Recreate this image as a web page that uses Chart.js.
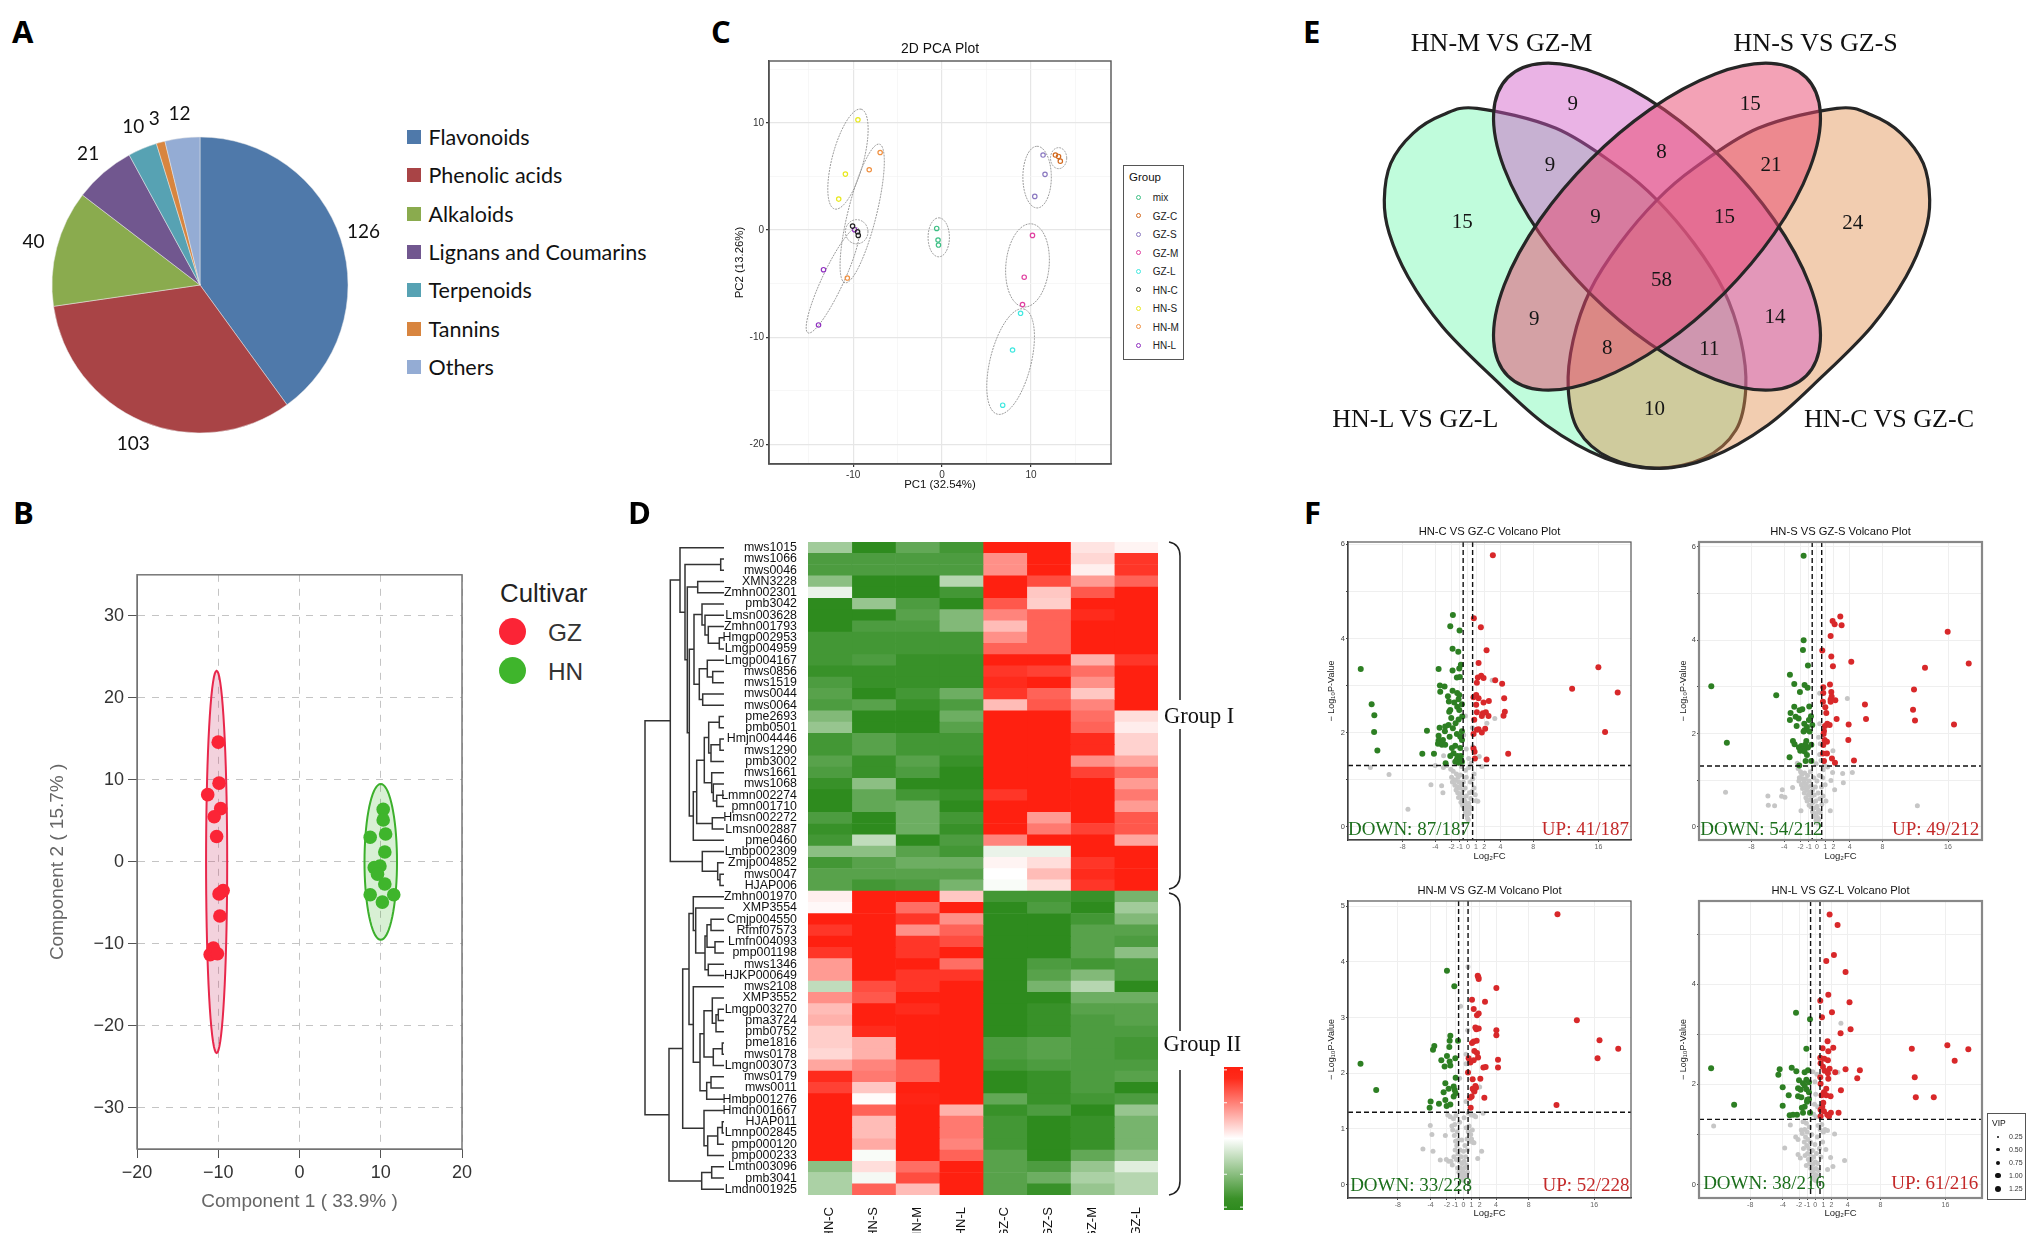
<!DOCTYPE html>
<html>
<head>
<meta charset="utf-8">
<title>Metabolite figure</title>
<script src="https://cdn.jsdelivr.net/npm/chart.js@4"></script>
<style>
  html, body { margin: 0; background: #fff; }
  #page { position: relative; width: 2033px; height: 1233px; overflow: hidden; background: #fff; }
  #page canvas { position: absolute; }
  .t { position: absolute; white-space: nowrap; line-height: 1; }
</style>
</head>
<body>
<div id="page"></div>
<script>
// A - metabolite classes
const classNames = ["Flavonoids", "Phenolic acids", "Alkaloids", "Lignans and Coumarins", "Terpenoids", "Tannins", "Others"];
const classCounts = [126, 103, 40, 21, 10, 3, 12];
const classColors = ["#4f79aa", "#a94446", "#8aab4e", "#71578f", "#57a2b3", "#d8853f", "#94acd4"];

// B - PLS-DA scores
const gzScores = [[-10, 14.6], [-9.9, 9.6], [-11.3, 8.2], [-9.7, 6.5], [-10.5, 5.5], [-10.2, 3.1], [-9.4, -3.5], [-9.9, -3.9], [-9.8, -6.6], [-10.6, -10.5], [-11, -11.3], [-10.1, -11.2]];
const hnScores = [[10.3, 6.4], [10.3, 5.1], [10.6, 3.4], [8.7, 3], [10.5, 1.2], [9.9, -0.5], [9.2, -0.7], [9.6, -1.5], [10.5, -2.7], [8.7, -4], [11.6, -4], [10.2, -4.9]];
const gzHull = [-10.2, 0, 0, 23.3, 1.3, 0];
const hnHull = [10, 0, 0, 9.5, 2, 0];

// C - PCA scores
const pcaGroups = ["mix", "GZ-C", "GZ-S", "GZ-M", "GZ-L", "HN-C", "HN-S", "HN-M", "HN-L"];
const pcaColors = ["#3ebf85", "#d2691e", "#8a78c0", "#e040a0", "#40e8e0", "#222222", "#e8e820", "#f09040", "#9030c0"];
const pcaPoints = [
  [[-0.6, 0.15], [-0.45, -0.93], [-0.4, -1.4]],
  [[12.75, 7], [13.1, 6.87], [13.3, 6.43]],
  [[11.36, 7], [11.58, 5.2], [10.43, 3.14]],
  [[10.17, -0.5], [9.24, -4.4], [9.05, -6.96]],
  [[8.83, -7.77], [7.93, -11.2], [6.82, -16.35]],
  [[-10.06, 0.37], [-9.5, -0.16], [-9.42, -0.5]],
  [[-9.46, 10.29], [-10.87, 5.22], [-11.62, 2.89]],
  [[-6.96, 7.24], [-8.19, 5.63], [-10.65, -4.48]],
  [[-13.33, -3.7], [-13.89, -8.86], [-9.83, 0.03]],
];
const pcaHulls = [
  [-0.37, -0.68, 0, 1.82, 1.2, 0],
  [13.11, 6.71, 0.91, 0, 0, 0.98],
  [10.69, 4.94, 0, 2.88, 1.6, 0],
  [9.61, -3.3, 0.45, 3.88, 2.42, -0.2],
  [7.71, -12.28, 1.49, 4.91, 2.23, -0.47],
  [-9.6, -0.16, 1.27, 0, 0, 1.13],
  [-10.58, 6.62, 1.49, 4.66, 1.71, -0.37],
  [-8.98, 1.55, 1.94, 6.47, 1.56, -0.31],
  [-12.29, -4.69, 2.79, 4.91, 1.08, -0.44],
];

// D - heatmap
const heatCols = ["HN-C", "HN-S", "HN-M", "HN-L", "GZ-C", "GZ-S", "GZ-M", "GZ-L"];
const heatNames = ["mws1015", "mws1066", "mws0046", "XMN3228", "Zmhn002301", "pmb3042", "Lmsn003628", "Zmhn001793", "Hmgp002953", "Lmgp004959", "Lmgp004167", "mws0856", "mws1519", "mws0044", "mws0064", "pme2693", "pmb0501", "Hmjn004446", "mws1290", "pmb3002", "mws1661", "mws1068", "Lmmn002274", "pmn001710", "Hmsn002272", "Lmsn002887", "pme0460", "Lmbp002309", "Zmjp004852", "mws0047", "HJAP006",
  "Zmhn001970", "XMP3554", "Cmjp004550", "Rfmf07573", "Lmfn004093", "pmp001198", "mws1346", "HJKP000649", "mws2108", "XMP3552", "Lmgp003270", "pma3724", "pmb0752", "pme1816", "mws0178", "Lmgn003073", "mws0179", "mws0011", "Hmbp001276", "Hmdn001667", "HJAP011", "Lmnp002845", "pmp000120", "pmp000233", "Lmtn003096", "pmb3041", "Lmdn001925"];
const heatValues = [
  [-.45, -1, -.75, -.9, 1, 1, .12, .05],
  [-.85, -.85, -.85, -.85, .5, 1, .18, .9],
  [-.85, -.85, -.85, -.85, .5, 1, .07, .9],
  [-.55, -1, -1, -.35, 1, .8, .45, .7],
  [-.1, -1, -1, -.9, 1, .25, .75, 1],
  [-1, -.5, -.85, -1, .75, .22, 1, 1],
  [-1, -1, -.8, -.6, .55, .7, .95, 1],
  [-1, -.85, -.85, -.6, .3, .7, 1, 1],
  [-.9, -.9, -.9, -.9, .5, .7, 1, 1],
  [-.9, -.9, -.9, -.9, .7, .7, 1, 1],
  [-.9, -.85, -.95, -.95, 1, 1, .35, .9],
  [-.95, -.95, -.95, -.95, .9, .85, .65, 1],
  [-.85, -.95, -.95, -.95, .95, 1, .5, 1],
  [-.8, -1, -.9, -.7, .9, .7, .25, 1],
  [-.85, -.8, -.95, -.85, .3, .75, .55, 1],
  [-.6, -1, -1, -.7, 1, 1, .65, .15],
  [-.5, -1, -1, -.8, 1, 1, .7, .08],
  [-.9, -.8, -.9, -.9, 1, 1, .95, .2],
  [-.9, -.8, -.9, -.9, 1, 1, .95, .2],
  [-.8, -.95, -.8, -.95, 1, 1, .5, .4],
  [-.85, -.95, -.85, -1, 1, 1, .85, .65],
  [-.95, -.55, -1, -1, 1, 1, 1, .45],
  [-1, -.75, -.9, -.95, .9, 1, 1, .6],
  [-1, -.75, -.7, -1, 1, 1, 1, .45],
  [-.85, -1, -.7, -.9, 1, .45, 1, .75],
  [-.95, -1, -.7, -.95, 1, .6, .85, .75],
  [-.9, -.3, -1, -.85, .55, 1, 1, .4],
  [-.55, -.55, -.8, -.9, -.1, -.1, 1, 1],
  [-.9, -.8, -.7, -.7, .05, .15, .9, 1],
  [-.8, -.8, -.8, -.8, 0, .3, .95, 1],
  [-.8, -.9, -.85, -.65, -.03, .15, .9, 1],
  [.07, 1, 1, .25, -.9, -.9, -.95, -.65],
  [.03, 1, .65, 1, -1, -.85, -1, -.45],
  [1, 1, .9, .5, -1, -1, -.9, -.6],
  [.9, 1, .5, .7, -1, -1, -.8, -.8],
  [1, 1, .9, .8, -1, -1, -.8, -.85],
  [.9, 1, .9, 1, -1, -1, -.8, -.55],
  [.45, 1, 1, .65, -1, -.85, -.9, -.85],
  [.45, 1, .9, .9, -1, -.8, -.6, -.85],
  [-.3, .8, .9, 1, -1, -.65, -.35, -1],
  [.5, .75, 1, 1, -1, -1, -.7, -.7],
  [.3, 1, .95, 1, -1, -.95, -.8, -.8],
  [.35, 1, 1, 1, -1, -.95, -.85, -.8],
  [.22, .95, 1, 1, -1, -.95, -.85, -.85],
  [.22, .35, 1, 1, -.85, -.8, -.85, -.9],
  [.18, .35, 1, 1, -.85, -.8, -.85, -.9],
  [.4, .55, .7, 1, -.9, -.85, -.85, -.85],
  [.95, .6, .7, 1, -1, -.95, -.85, -.8],
  [.85, .25, 1, 1, -1, -.95, -.85, -1],
  [1, .02, .98, 1, -.75, -.95, -.9, -.85],
  [1, .7, 1, .35, -.95, -.85, -1, -.5],
  [1, .3, 1, .6, -.9, -1, -.95, -.65],
  [1, .3, 1, .6, -.9, -1, -.95, -.65],
  [1, .38, 1, .55, -.9, -1, -.95, -.65],
  [1, -.03, 1, .7, -.8, -1, -.75, -.55],
  [-.55, .15, .65, 1, -.8, -.85, -.5, -.15],
  [-.4, -.05, .8, 1, -.8, -.7, -.4, -.35],
  [-.4, .7, .3, 1, -.8, -.95, -.5, -.35],
];
// dendrogram: [distance, left, right], a plain number is a row of heatNames
const treeTop = [53.7,
  [44, 0, [39, [3.3, 1, 2], [36.7, [26.3, 3, 4], [34.7,
    [30, [22, 5, [19, 6, [15.7, 7, [4.7, 8, 9]]]], [24.7, [16.7, 10, [11.3, 11, 12]], [21.3, 13, 14]]],
    [30.7, [27.3, [19.7, [15.3, [4.7, 15, 16], [13, [4, 17, 18], 19]], [12.3, 20, [10.7, 21, [7.3, 22, 23]]]], [11.7, 24, 25]], 26]]]]],
  [21.7, 27, [6.3, 28, [4, 29, 30]]]];
const treeBottom = [55,
  [41.3, [35,
    [30.7, 31, [28.3, 32, [19, [17, [13, 33, 34], [9, 35, 36]], [15.7, 37, 38]]]],
    [30.7, 39, [24, [20, [11.7, 40, [8, [5.7, 41, 42], 43]], [10.7, [1.7, 44, 45], 46]], [17.3, [13, 47, 48], 49]]]],
    [20, 50, [16.3, [6.3, [1.7, 51, 52], 53], 54]]],
  [22.3, [12.3, 55, 56], 57]];
const treeRoot = [79, treeTop, treeBottom];

// E - Venn
const vennSets = ["HN-L VS GZ-L", "HN-M VS GZ-M", "HN-S VS GZ-S", "HN-C VS GZ-C"];
const vennCounts = [15, 9, 15, 24, 9, 8, 21, 9, 15, 58, 9, 14, 8, 11, 10];
const vennCountX = [-194.8, -84.3, 93.2, 195.8, -107, 4.4, 113.9, -61.6, 67.6, 4.4, -122.8, 117.9, -49.8, 52.3, -2.5];
const vennCountY = [222.3, 104, 104, 223.3, 165, 152.7, 165, 217.3, 217.3, 280, 319, 317.3, 348.3, 349, 409.3];
const vennOuterX = [-180, -101, -37, 0, 37, 66.6, 83.8, 88.8, 78.9, 46.8, -2.5, -51.8, -111, -165, -214.5, -249, -267.8, -272.7, -266.3, -244, -214.5];
const vennOuterY = [108.3, 128.3, 168.3, 200, 243.3, 290, 340, 388.3, 430, 458.3, 468.3, 458.3, 425, 376.7, 326.7, 276.7, 233.3, 200, 163.3, 133.3, 115];

// F - volcano plots, [log2FC, -log10P]
const volcanoTicks = [-8, -4, -2, -1, 0, 1, 2, 4, 8, 16];
const cUp = [[3.06, 5.77], [.73, 4.43], [1.59, 4.24], [2.29, 3.75], [1.31, 3.48], [16, 3.39], [3.35, 3.11], [1.63, 3.21], [1.22, 3.17], [1.92, 3.16], [1.1, 3.06], [4.2, 3.04], [12.78, 2.93], [18.37, 2.85], [1.02, 2.8], [.69, 2.75], [1.31, 2.73], [4.45, 2.73], [2.57, 2.67], [1.92, 2.64], [1.02, 2.59], [4.53, 2.44], [4.37, 2.36], [1.1, 2.43], [2.2, 2.43], [1.71, 2.35], [2.53, 2.35], [.78, 2.27], [16.82, 2.01], [2.12, 2.08], [1.1, 2.06], [1.71, 2], [.69, 1.97], [.69, 1.66], [.82, 1.59], [4.94, 1.55], [.86, 1.45], [2.29, 1.43], [1.31, 2.07], [1.84, 2.41]];
const cDown = [[-13.14, 3.35], [-11.8, 2.6], [-11.47, 2.37], [-11.5, 2.01], [-11.1, 1.62], [-1.84, 4.5], [-2.16, 4.26], [-1.02, 4.17], [-1.88, 3.78], [-1.18, 3.72], [-3.59, 3.35], [-1.88, 3.32], [-1.06, 3.36], [-.86, 3.44], [-1.35, 3.17], [-.98, 3.18], [-3.43, 3], [-2.86, 2.98], [-3.39, 2.87], [-1.88, 2.89], [-1.31, 2.84], [-2.45, 2.77], [-1.06, 2.8], [-1.14, 2.71], [-2.33, 2.66], [-1.67, 2.64], [-.73, 2.6], [-1.31, 2.55], [-1.06, 2.48], [-2.16, 2.48], [-2.29, 2.44], [-.69, 2.34], [-2.04, 2.31], [-1.14, 2.28], [-1.51, 2.2], [-2.37, 2.16], [-2.78, 2.13], [-3.47, 2.1], [-1.84, 2.09], [-5.02, 2.04], [-2.82, 2.03], [-.73, 2.03], [-3.59, 1.93], [-1.35, 1.97], [-2.24, 1.91], [-.94, 1.91], [-3.59, 1.83], [-3.06, 1.84], [-.73, 1.84], [-3.67, 1.76], [-3.18, 1.74], [-2.78, 1.74], [-1.55, 1.72], [-1.96, 1.67], [-.94, 1.67], [-5.59, 1.55], [-4.16, 1.55], [-1.76, 1.56], [-2.16, 1.5], [-1.27, 1.5], [-.86, 1.5], [-1.35, 1.43], [-.94, 1.43], [-2.73, 1.35], [-1.14, 1.36], [-.73, 1.38], [-1.55, 1.38]];
const cOther = [[-7.35, .37], [-9.67, 1.11], [-11.96, 1.26], [-4.53, .89], [-3.22, .87], [-3.06, .72], [-4, 1.3], [-2.98, 1.51], [2.98, 3.11], [3.3, 2.3], [2.33, 2.2], [1.39, 1.49], [1.71, 1.28], [1.22, .54], [-2.1, 1.22], [-1.8, 1.18], [-2, 1.05], [-1.7, 1], [-1.9, .95], [-1.4, 1.12], [-1.5, .98], [-1.6, .88], [-1.2, 1.05], [-1.3, .85], [-1.1, .95], [-1.45, .78], [-1.25, .72], [-1, .82], [-.9, 1.1], [-.95, .7], [-1.15, .62], [-.8, .9], [-.75, .6], [-.85, .52], [-.6, .78], [-.55, .95], [-.65, .45], [-.5, .62], [-.45, .38], [-.4, .55], [-.35, .82], [-.3, .3], [-.25, .48], [-.2, .65], [-.15, .25], [-.1, .4], [-.05, .18], [0, .32], [.05, .15], [.1, .5], [.15, .28], [.2, .72], [.25, .42], [.3, .95], [.35, .6], [.45, .38], [.5, .75], [.6, 1.02], [.75, .82], [.9, .68], [1, .55], [.75, 1.12], [.4, 1.35], [.1, 1.25], [-.3, 1.2], [-.5, 1.95], [-.3, 2.35], [.55, 2.1], [-.2, 1.65], [.1, 1.45], [.6, 1.7], [-.8, 1.28], [-.2, 1.05], [-2.6, 1.3], [-3, 1.26]];

const sUp = [[2.85, 4.51], [1.91, 4.41], [2.16, 4.34], [3.01, 4.32], [1.67, 4.09], [15.96, 4.18], [.65, 3.78], [1.75, 3.65], [4.19, 3.54], [1.95, 3.44], [18.53, 3.5], [13.19, 3.41], [11.85, 2.94], [1.59, 3.05], [.77, 2.99], [1.75, 2.89], [.77, 2.87], [1.79, 2.79], [1.67, 2.73], [2.24, 2.71], [1.67, 2.68], [.73, 2.68], [5.86, 2.62], [1.02, 2.56], [11.73, 2.51], [1.14, 2.44], [2.4, 2.31], [5.99, 2.31], [11.97, 2.28], [1.26, 2.21], [3.87, 2.19], [16.73, 2.19], [1.55, 2.18], [.98, 2.16], [.86, 2.05], [.81, 1.99], [.94, 1.86], [3.83, 1.86], [1.22, 1.82], [.77, 1.75], [1.22, 1.57], [.73, 1.57], [1.83, 1.46], [4.52, 1.42], [.86, 1.41], [2.2, 1.37]];
const sDown = [[-12.9, 3.01], [-11, 1.8], [-1.63, 5.81], [-1.63, 4], [-1.71, 3.79], [-1.1, 3.46], [-3.3, 3.26], [-2.77, 3.06], [-1.51, 3.04], [-1.14, 2.98], [-2.08, 2.89], [-4.97, 2.82], [-2.77, 2.57], [-.94, 2.58], [-1.79, 2.52], [-2.12, 2.5], [-3.22, 2.44], [-.73, 2.37], [-2.6, 2.36], [-2.24, 2.32], [-3.3, 2.29], [-.98, 2.29], [-1.55, 2.21], [-.57, 2.18], [-2.48, 2.16], [-1.22, 2.14], [-1.51, 2.07], [-1.63, 2.04], [-.9, 2.04], [-2.93, 1.84], [-1.3, 1.84], [-2.73, 1.77], [-.69, 1.76], [-1.43, 1.76], [-1.91, 1.73], [-2.2, 1.7], [-1.1, 1.7], [-1.71, 1.66], [-2.04, 1.63], [-1.51, 1.61], [-1.22, 1.54], [-3.34, 1.49], [-1.38, 1.41], [-.69, 1.41], [-2.16, 1.31]];
const sOther = [[-11.16, .74], [12.26, .45], [-5.99, .66], [-5.94, .46], [-5.17, .45], [-4.23, .79], [-4.32, .65], [-3.91, .63], [-2.97, .84], [-1.95, .34], [3.71, 2.75], [1.95, 1.63], [4.32, 1.16], [3.14, 1.14], [3.22, .94], [1.91, 1.16], [1.71, .99], [2.16, .79], [1.63, .34], [.33, 2.86], [.33, 2.21], [-2.3, 1.25], [-2, 1.18], [-2.15, 1.05], [-2.2, .98], [-1.85, 1.12], [-1.7, 1.02], [-1.9, .9], [-1.6, .95], [-1.75, .82], [-1.5, 1.15], [-1.4, 1.02], [-1.45, .85], [-1.55, .72], [-1.3, .92], [-1.25, .78], [-1.35, .62], [-1.15, 1.1], [-1.1, .85], [-1.05, .68], [-1.2, .55], [-.95, .98], [-.9, .75], [-.85, .58], [-.95, .46], [-.8, 1.18], [-.7, .88], [-.65, .65], [-.7, .42], [-.55, .78], [-.5, .52], [-.55, .32], [-.4, 1.05], [-.35, .68], [-.3, .4], [-.35, .22], [-.2, .85], [-.15, .55], [-.12, .28], [-.1, .14], [0, .98], [.02, .44], [.05, .2], [.08, .08], [.15, .72], [.2, .35], [.25, .16], [.3, 1.1], [.35, .6], [.4, .3], [.55, .85], [.6, .48], [.7, 1.05], [.75, .66], [1, .9], [1.1, .55], [.33, 1.55], [.4, 1.78], [.2, 1.92], [-.1, 1.35], [.5, 1.42], [.75, 1.22], [-2.4, 1.36], [1.3, 1.28], [.9, 1.32]];

const mUp = [[11.51, 4.85], [1.76, 3.75], [1.84, 3.72], [1.88, 3.69], [4.04, 3.53], [1.06, 3.32], [2.65, 3.28], [1.27, 3.15], [1.88, 3.07], [1.67, 3.04], [13.88, 2.95], [1.47, 2.82], [1.88, 2.8], [1.59, 2.79], [4.04, 2.77], [4.04, 2.68], [1.63, 2.58], [1.27, 2.57], [1.06, 2.54], [16.65, 2.59], [18.94, 2.44], [1.35, 2.4], [1.67, 2.36], [16.41, 2.27], [4.24, 2.24], [.65, 2.27], [1.8, 2.28], [1.27, 2.23], [.86, 2.19], [2.45, 2.1], [2.73, 2.11], [4.24, 2.1], [.57, 2.01], [1.14, 1.89], [2.08, 1.9], [1.47, 1.77], [1.14, 1.72], [1.35, 1.67], [1.02, 1.58], [.82, 1.56], [2.57, 1.56], [11.39, 1.43], [.9, 1.38], [1.27, 1.7], [1.55, 1.74]];
const mDown = [[-12.57, 2.17], [-10.65, 1.7], [-2, 3.84], [-1.1, 3.56], [-1.59, 2.67], [-1.67, 2.58], [-.65, 2.58], [-1.71, 2.47], [-3.55, 2.49], [-3.71, 2.42], [-2, 2.31], [-2.69, 2.23], [-.98, 2.27], [-1.67, 2.21], [-1.59, 2.14], [-2.29, 2.12], [-.94, 1.92], [-2.2, 1.82], [-1.18, 1.76], [-1.8, 1.72], [-1.06, 1.7], [-2.41, 1.66], [-1.18, 1.58], [-4, 1.49], [-2.98, 1.45], [-2.2, 1.52], [-1.59, 1.44], [-2.04, 1.41], [-4.12, 1.38], [-.94, 1.64]];
const mOther = [[.57, 3.91], [-.33, 3.2], [.53, 2.77], [.33, 2.34], [.33, 2.17], [-.45, 1.91], [2, 1.75], [.33, 1.49], [2.41, 1.28], [-4.04, 1.06], [-3.84, .9], [-2.2, .88], [-4.94, .64], [-3.71, .6], [-2.82, .44], [-2.08, .45], [-1.8, .42], [2.24, .6], [1.76, .47], [-1.9, 1.25], [-1.6, 1.22], [-1.4, 1.05], [-1.2, 1.18], [-1.3, .98], [-1.05, 1.08], [-1.1, .88], [-.95, .78], [-.9, 1.24], [-1.5, .42], [-1.35, .35], [-1.15, .5], [-1, .62], [-.85, .45], [-.8, .7], [-.75, .95], [-.7, .3], [-.65, .55], [-.6, .8], [-.55, .22], [-.5, .42], [-.45, 1.12], [-.4, .62], [-.35, .3], [-.3, .18], [-.25, .5], [-.2, .8], [-.15, .38], [-.1, .12], [-.05, .25], [0, .08], [.02, .6], [.05, .18], [.1, .42], [.15, .3], [.2, .7], [.25, .15], [.3, .5], [.35, 1.02], [.4, .35], [.45, .82], [.5, .22], [.6, .95], [.7, 1.05], [.8, .78], [.9, .9], [1, .82], [1.1, .98], [1.15, .76], [1.3, .75], [.95, 1.25], [1.3, 1.24], [1.5, 1.22], [.6, 1.28], [.1, 1.2], [.5, .62]];

const lUp = [[1.76, 5.39], [2.74, 5.18], [2.29, 4.58], [1.35, 4.46], [3.72, 4.24], [1.6, 3.79], [.61, 3.67], [4.21, 3.64], [2.05, 3.44], [.82, 3.34], [4.34, 3.1], [3.11, 3.02], [1.51, 2.86], [16.24, 2.78], [11.87, 2.71], [18.82, 2.7], [2.21, 2.73], [.9, 2.72], [1.6, 2.66], [17.14, 2.47], [.61, 2.53], [1.1, 2.51], [1.55, 2.48], [.65, 2.42], [.94, 2.35], [3.72, 2.3], [5.48, 2.28], [1.76, 2.31], [1.15, 2.27], [2.45, 2.24], [1.55, 2.22], [.61, 2.14], [12.23, 2.14], [5.16, 2.12], [1.6, 2.11], [.65, 2.01], [1.35, 1.91], [3.15, 1.88], [1.06, 1.84], [.78, 1.78], [1.35, 1.78], [1.88, 1.76], [12.36, 1.74], [14.57, 1.74], [.98, 1.63], [.86, 1.55], [1.06, 1.46], [.65, 1.49], [2.86, 1.43], [1.92, 1.43], [1.47, 1.39], [.65, 1.36], [1.68, 1.36]];
const lDown = [[-12.81, 2.32], [-9.98, 1.59], [-2.37, 3.43], [-.65, 3.3], [-1.1, 2.71], [-2.9, 2.33], [-4.38, 2.3], [-4.54, 2.19], [-2.33, 2.26], [-.9, 2.28], [-1.31, 2.24], [-2, 2.08], [-1.1, 2.09], [-.78, 2.04], [-1.51, 2.02], [-1.31, 1.97], [-4.01, 1.94], [-2.12, 1.92], [-1.8, 1.89], [-1.1, 1.9], [-.78, 1.84], [-3.27, 1.78], [-2.12, 1.76], [-1.72, 1.74], [-.78, 1.7], [-1.02, 1.65], [-4.01, 1.57], [-1.31, 1.55], [-1.65, 1.53], [-1.51, 1.43], [-.65, 1.43], [-2.25, 1.39], [-3.15, 1.38], [-2.73, 1.39], [-.98, 1.69]];
const lOther = [[-12.5, 1.17], [3.15, 3.22], [2.78, 2.24], [-3.76, .73], [-3.07, 1.19], [-2.41, .95], [-2.12, .9], [-1.72, 1.09], [-1.43, 1.26], [3.6, .48], [2.37, 1.01], [1.88, .54], [2.17, .36], [1.51, .3], [-2.12, .6], [-1.84, .53], [-1.1, .38], [-1.5, 1.25], [-1.3, 1.1], [-1.6, 1.02], [-1.1, 1.22], [-1.2, .95], [-1.35, .85], [-1.45, .72], [-1.05, .78], [-1, 1.05], [-.95, .62], [-.9, .9], [-1.25, .58], [-.85, .5], [-.8, .72], [-.75, 1.15], [-.7, .42], [-.65, .6], [-.6, .85], [-.55, .32], [-.5, .5], [-.45, 1], [-.4, .25], [-.35, .68], [-.3, .4], [-.25, .15], [-.2, .55], [-.15, .3], [-.1, .1], [-.05, .8], [0, .2], [.02, .45], [.05, .08], [.1, .32], [.15, .62], [.2, .18], [.25, .95], [.3, .42], [.35, 1.18], [.4, .28], [.5, .72], [.6, 1.1], [.7, .55], [.8, 1.2], [.9, .85], [1, 1.05], [1.2, 1.1], [1.3, .7], [1.5, 1.08], [-.2, 1.4], [.05, 1.8], [-.1, 1.6], [.2, 2.2], [-.05, 2.05], [.3, 1.55], [-.3, 2.25], [.1, 1.35]];

const vipSizes = [0.25, 0.5, 0.75, 1, 1.25];

Chart.defaults.font.family = '"Liberation Sans", Arial, sans-serif';
Chart.defaults.animation = false;

const page = document.getElementById("page");

// rect and plot are [left, top, right, bottom] in page pixels
function addChart(rect, plot, config) {
  let canvas = document.createElement("canvas");
  canvas.width = rect[2] - rect[0];
  canvas.height = rect[3] - rect[1];
  canvas.style.left = rect[0] + "px";
  canvas.style.top = rect[1] + "px";
  page.appendChild(canvas);
  let opts = config.options || (config.options = {});
  opts.responsive = false;
  opts.devicePixelRatio = 1;
  opts.plugins = Object.assign({ legend: { display: false }, tooltip: { enabled: false } }, opts.plugins);
  let titleH = 0;
  if (opts.plugins.title) titleH = opts.plugins.title.font.size * 1.2 + 3;
  opts.layout = {
    autoPadding: false,
    padding: { left: plot[0] - rect[0] - (opts.scales && opts.scales.y && opts.scales.y.display !== false ? plot[0] - rect[0] : 0), top: plot[1] - rect[1] - titleH, right: rect[2] - plot[2], bottom: 0 },
  };
  if (opts.scales) {
    if (opts.scales.y.display !== false) opts.scales.y.afterFit = (s) => { s.width = plot[0] - rect[0]; };
    if (opts.scales.x.display !== false) opts.scales.x.afterFit = (s) => { s.height = rect[3] - plot[3]; };
  }
  return new Chart(canvas, config);
}

function addText(text, x, y, css) {
  let el = document.createElement("div");
  el.className = "t";
  el.textContent = text;
  el.style.cssText = `left:${x}px;top:${y}px;` + css;
  page.appendChild(el);
  return el;
}

function explicitTicks(values) {
  return (s) => { s.ticks = values.map((v) => ({ value: v })); };
}

function framePlugin(color, width) {
  return {
    id: "frame",
    afterDraw(chart) {
      let a = chart.chartArea, c = chart.ctx;
      c.save();
      c.strokeStyle = color;
      c.lineWidth = width;
      c.strokeRect(a.left, a.top, a.right - a.left, a.bottom - a.top);
      c.restore();
    },
  };
}

// hull = [cx, cy, ax, ay, bx, by], centre and the two half axes in data units
function hullPlugin(hulls, style) {
  return {
    id: "hulls",
    beforeDatasetsDraw(chart) {
      let c = chart.ctx, sx = chart.scales.x, sy = chart.scales.y;
      hulls.forEach((h, i) => {
        let st = style[i] || style[0];
        c.save();
        c.beginPath();
        for (let k = 0; k <= 72; k++) {
          let t = (k / 72) * Math.PI * 2;
          let px = sx.getPixelForValue(h[0] + h[2] * Math.cos(t) + h[4] * Math.sin(t));
          let py = sy.getPixelForValue(h[1] + h[3] * Math.cos(t) + h[5] * Math.sin(t));
          if (k === 0) c.moveTo(px, py);
          else c.lineTo(px, py);
        }
        c.closePath();
        if (st.fill) {
          c.fillStyle = st.fill;
          c.fill();
        }
        c.strokeStyle = st.stroke;
        c.lineWidth = st.width;
        if (st.dash) c.setLineDash(st.dash);
        c.stroke();
        c.restore();
      });
    },
  };
}

// A
const pieLabels = {
  id: "pieLabels",
  afterDatasetsDraw(chart) {
    let c = chart.ctx;
    c.save();
    c.font = '19px Lato';
    c.fillStyle = "#111";
    c.textAlign = "center";
    c.textBaseline = "middle";
    chart.getDatasetMeta(0).data.forEach((arc, i) => {
      let a = (arc.startAngle + arc.endAngle) / 2;
      c.fillText(classCounts[i], arc.x + Math.cos(a) * (arc.outerRadius + 24), arc.y + Math.sin(a) * (arc.outerRadius + 24));
    });
    c.restore();
  },
};

addChart([0, 85, 400, 485], [0, 85, 400, 485], {
  type: "pie",
  data: { labels: classNames, datasets: [{ data: classCounts, backgroundColor: classColors, borderWidth: 0.5, borderColor: "#e8e8e8", radius: 148 }] },
  plugins: [pieLabels],
});

classNames.forEach((name, i) => {
  let y = 137 + i * 38.3;
  let sw = addText("", 407, y - 7, `width:14px;height:14px;background:${classColors[i]};`);
  addText(name, 428.5, y - 12, "font:21.5px/24px Lato;color:#111;");
});

// B
const minus = (v) => (v < 0 ? "\u2212" + Math.abs(v) : String(v));
addChart([46, 560, 480, 1213], [137, 574, 462, 1149], {
  type: "scatter",
  data: {
    datasets: [
      { label: "GZ", data: gzScores, backgroundColor: "#fb2436", pointRadius: 6.8, borderWidth: 0 },
      { label: "HN", data: hnScores, backgroundColor: "#3fb52c", pointRadius: 6.8, borderWidth: 0 },
    ],
  },
  options: {
    scales: {
      x: {
        type: "linear", min: -20, max: 20,
        afterBuildTicks: explicitTicks([-20, -10, 0, 10, 20]),
        grid: { color: "#c4c4c4", tickColor: "#555", tickLength: 9 }, border: { dash: [7, 7], color: "#666" },
        ticks: { callback: minus, font: { size: 18 }, color: "#333", padding: 4, maxRotation: 0 },
        title: { display: true, text: "Component 1 ( 33.9% )", font: { size: 19 }, color: "#666", padding: 0 },
      },
      y: {
        type: "linear", min: -35, max: 35,
        afterBuildTicks: explicitTicks([-30, -20, -10, 0, 10, 20, 30]),
        grid: { color: "#c4c4c4", tickColor: "#555", tickLength: 9 }, border: { dash: [7, 7], color: "#666" },
        ticks: { callback: minus, font: { size: 18 }, color: "#333", padding: 4 },
        title: { display: true, text: "Component 2 ( 15.7% )", font: { size: 19 }, color: "#666", padding: 0 },
      },
    },
  },
  plugins: [framePlugin("#777", 1.5), hullPlugin([gzHull, hnHull], [
    { fill: "rgba(200,50,100,0.22)", stroke: "#e8274b", width: 2 },
    { fill: "rgba(60,180,40,0.2)", stroke: "#3cb02c", width: 2 },
  ])],
});
addText("Cultivar", 500, 579, "font:25.8px 'Liberation Sans';color:#222;");
addText("", 499, 617.5, "width:27px;height:27px;border-radius:50%;background:#fb2436;");
addText("", 499, 656.5, "width:27px;height:27px;border-radius:50%;background:#3fb52c;");
addText("GZ", 548, 619, "font:24.4px 'Liberation Sans';color:#333;");
addText("HN", 548, 658, "font:24.4px 'Liberation Sans';color:#333;");

// C
const pcaGrid = (ctx) => (ctx.tick && ctx.tick.value % 10 === 0 ? "#e6e6e6" : "#f3f3f3");
const pcaGridW = (ctx) => (ctx.tick && ctx.tick.value % 10 === 0 ? 1.2 : 0.7);
const pcaTick = (ctx) => (ctx.tick && ctx.tick.value % 10 === 0 ? "#333" : "rgba(0,0,0,0)");
const tensOnly = (v) => (v % 10 === 0 ? v : "");
addChart([733, 30, 1115, 492], [769, 61, 1111, 464], {
  type: "scatter",
  data: {
    datasets: pcaGroups.map((g, i) => ({ label: g, data: pcaPoints[i], borderColor: pcaColors[i], backgroundColor: "rgba(0,0,0,0)", pointRadius: 2.2, borderWidth: 1.2 })),
  },
  options: {
    plugins: { title: { display: true, text: "2D PCA Plot", font: { size: 13.9, weight: "normal" }, color: "#111", fullSize: false, padding: { top: 0, bottom: 3 } } },
    scales: {
      x: {
        type: "linear", min: -19.46, max: 19,
        afterBuildTicks: explicitTicks([-15, -10, -5, 0, 5, 10, 15]),
        grid: { color: pcaGrid, lineWidth: pcaGridW, tickColor: pcaTick, tickLength: 3 },
        border: { color: "#444", width: 1.5 },
        ticks: { callback: tensOnly, font: { size: 10 }, color: "#333", padding: 2, maxRotation: 0 },
        title: { display: true, text: "PC1 (32.54%)", font: { size: 11.4 }, color: "#111", padding: 0 },
      },
      y: {
        type: "linear", min: -21.84, max: 15.78,
        afterBuildTicks: explicitTicks([-20, -15, -10, -5, 0, 5, 10, 15]),
        grid: { color: pcaGrid, lineWidth: pcaGridW, tickColor: pcaTick, tickLength: 3 },
        border: { color: "#444", width: 1.5 },
        ticks: { callback: tensOnly, font: { size: 10 }, color: "#333", padding: 2 },
        title: { display: true, text: "PC2 (13.26%)", font: { size: 11.4 }, color: "#111", padding: 0 },
      },
    },
  },
  plugins: [framePlugin("#555", 1.4), hullPlugin(pcaHulls, [{ stroke: "#9a9a9a", width: 1, dash: [2, 1] }])],
});
addText("", 1123, 165, "width:59px;height:193px;border:1.4px solid #555;box-sizing:content-box;");
addText("Group", 1129, 171, "font:11.5px 'Liberation Sans';color:#111;");
pcaGroups.forEach((g, i) => {
  let y = 197 + i * 18.5;
  addText("", 1135.5, y - 2.5, `width:3.4px;height:3.4px;border-radius:50%;border:1.2px solid ${pcaColors[i]};`);
  addText(g, 1152.7, y - 5, "font:10px 'Liberation Sans';color:#222;");
});

// D
function heatColor(v) {
  let target = v >= 0 ? [255, 32, 16] : [46, 139, 30];
  let k = Math.abs(v);
  return `rgb(${target.map((c) => Math.round(255 + (c - 255) * k)).join(",")})`;
}

const dendrogram = {
  id: "dendrogram",
  afterDraw(chart) {
    let c = chart.ctx, sy = chart.scales.y;
    let leafX = 94; // line ends, canvas pixels
    c.save();
    c.strokeStyle = "#333";
    c.lineWidth = 1.5;
    function walk(node) {
      if (typeof node === "number") return { x: leafX, y: sy.getPixelForValue(node) };
      let a = walk(node[1]), b = walk(node[2]);
      let x = leafX - node[0];
      c.beginPath();
      c.moveTo(a.x, a.y);
      c.lineTo(x, a.y);
      c.lineTo(x, b.y);
      c.lineTo(b.x, b.y);
      c.stroke();
      return { x: x, y: (a.y + b.y) / 2 };
    }
    walk(treeRoot);
    c.restore();
  },
};

function drawBrace(c, x, top, gapTop, gapBottom, bottom) {
  c.beginPath();
  c.moveTo(x - 11, top);
  c.quadraticCurveTo(x, top + 2, x, top + 14);
  c.lineTo(x, gapTop);
  c.moveTo(x, gapBottom);
  c.lineTo(x, bottom - 14);
  c.quadraticCurveTo(x, bottom - 2, x - 11, bottom);
  c.stroke();
}

const heatExtras = {
  id: "heatExtras",
  afterDraw(chart) {
    let c = chart.ctx, sy = chart.scales.y, a = chart.chartArea;
    let row = (i) => sy.getPixelForValue(i);
    let half = (row(1) - row(0)) / 2;
    c.save();
    c.strokeStyle = "#222";
    c.lineWidth = 1.5;
    drawBrace(c, a.right + 22, row(0) - half, 170, 198, row(30) + half - 2);
    drawBrace(c, a.right + 22, row(31) - half + 2, 508, 540, row(57) + half);
    // colour key
    let top = 537, bottom = 680, left = 594, right = 613;
    let g = c.createLinearGradient(0, top, 0, bottom);
    g.addColorStop(0, "#ff2010");
    g.addColorStop(0.08, "#ff2a1a");
    g.addColorStop(0.5, "#ffffff");
    g.addColorStop(0.92, "#3a9128");
    g.addColorStop(1, "#2e8b1e");
    c.fillStyle = g;
    c.fillRect(left, top, right - left, bottom - top);
    c.strokeStyle = "#fff";
    c.lineWidth = 1;
    [0.02, 0.25, 0.5, 0.75, 0.98].forEach((f) => {
      let y = top + (bottom - top) * f;
      c.beginPath();
      c.moveTo(left, y);
      c.lineTo(left + 3, y);
      c.moveTo(right - 3, y);
      c.lineTo(right, y);
      c.stroke();
    });
    c.restore();
  },
};

addChart([630, 530, 1250, 1235], [808, 542, 1158, 1195], {
  type: "bar",
  data: {
    labels: heatNames,
    datasets: heatCols.map((col, j) => ({
      label: col,
      data: heatNames.map(() => 1),
      backgroundColor: heatValues.map((r) => heatColor(r[j])),
      borderWidth: 0,
      barPercentage: 1,
      categoryPercentage: 1,
    })),
  },
  options: {
    indexAxis: "y",
    scales: {
      x: {
        type: "linear", stacked: true, min: 0, max: 8,
        afterBuildTicks: explicitTicks([0.5, 1.5, 2.5, 3.5, 4.5, 5.5, 6.5, 7.5]),
        grid: { display: false }, border: { display: false },
        ticks: { callback: (v) => heatCols[v - 0.5], font: { size: 13 }, color: "#111", padding: 4, minRotation: 90, maxRotation: 90, autoSkip: false },
      },
      y: {
        stacked: true,
        grid: { display: false }, border: { display: false },
        ticks: { font: { size: 12.4 }, color: "#111", padding: 3, autoSkip: false },
      },
    },
  },
  plugins: [dendrogram, heatExtras],
});
addText("Group I", 1164, 703, "font:22.4px 'Liberation Serif';color:#111;background:#fff;");
addText("Group II", 1163.5, 1031, "font:22.4px 'Liberation Serif';color:#111;background:#fff;");

// E
function closedSpline(c, pts) {
  let n = pts.length;
  c.moveTo(pts[0][0], pts[0][1]);
  for (let i = 0; i < n; i++) {
    let p0 = pts[(i - 1 + n) % n], p1 = pts[i], p2 = pts[(i + 1) % n], p3 = pts[(i + 2) % n];
    c.bezierCurveTo(p1[0] + (p2[0] - p0[0]) / 6, p1[1] + (p2[1] - p0[1]) / 6, p2[0] - (p3[0] - p1[0]) / 6, p2[1] - (p3[1] - p1[1]) / 6, p2[0], p2[1]);
  }
  c.closePath();
}

const vennShapes = {
  id: "vennShapes",
  beforeDatasetsDraw(chart) {
    let c = chart.ctx, sx = chart.scales.x, sy = chart.scales.y;
    let outer = (sign) => vennOuterX.map((x, i) => [sx.getPixelForValue(sign * x), sy.getPixelForValue(vennOuterY[i])]);
    let finish = (fill) => {
      c.fillStyle = fill;
      c.fill();
      c.strokeStyle = "#262626";
      c.lineWidth = 3.2;
      c.stroke();
    };
    c.save();
    c.beginPath();
    closedSpline(c, outer(1));
    finish("rgba(115,249,177,0.45)");
    c.beginPath();
    closedSpline(c, outer(-1));
    finish("rgba(227,144,80,0.45)");
    c.beginPath();
    c.ellipse(sx.getPixelForValue(0), sy.getPixelForValue(226.7), 211, 94.5, Math.PI / 4, 0, Math.PI * 2);
    finish("rgba(209,87,198,0.45)");
    c.beginPath();
    c.ellipse(sx.getPixelForValue(0), sy.getPixelForValue(226.7), 211, 94.5, -Math.PI / 4, 0, Math.PI * 2);
    finish("rgba(231,70,110,0.5)");
    c.fillStyle = "#151515";
    c.font = '21px "Liberation Serif"';
    c.textAlign = "center";
    c.textBaseline = "middle";
    vennCounts.forEach((n, i) => c.fillText(n, sx.getPixelForValue(vennCountX[i]), sy.getPixelForValue(vennCountY[i])));
    c.restore();
  },
};

addChart([1357, 0, 1957, 490], [1357, 0, 1957, 490], {
  type: "scatter",
  data: { datasets: [{ data: vennCountX.map((x, i) => [x, vennCountY[i]]), pointRadius: 0 }] },
  options: {
    scales: {
      x: { type: "linear", min: -300, max: 300, display: false },
      y: { type: "linear", min: 0, max: 490, reverse: true, display: false },
    },
  },
  plugins: [vennShapes],
});
const vennFont = "font:26px 'Liberation Serif';color:#111;transform:translate(-50%,-50%);";
addText(vennSets[1], 1501.6, 43, vennFont);
addText(vennSets[2], 1815.7, 43, vennFont);
addText(vennSets[0], 1415.3, 419, vennFont);
addText(vennSets[3], 1889, 419, vennFont);

// F
function thresholdPlugin(xLines, yLine) {
  return {
    id: "thresholds",
    afterDatasetsDraw(chart) {
      let c = chart.ctx, a = chart.chartArea, sx = chart.scales.x, sy = chart.scales.y;
      c.save();
      c.strokeStyle = "#111";
      c.lineWidth = 1.4;
      c.setLineDash([5, 3]);
      c.beginPath();
      xLines.forEach((v) => {
        c.moveTo(sx.getPixelForValue(v), a.top);
        c.lineTo(sx.getPixelForValue(v), a.bottom);
      });
      c.moveTo(a.left, sy.getPixelForValue(yLine));
      c.lineTo(a.right, sy.getPixelForValue(yLine));
      c.stroke();
      c.restore();
    },
  };
}

function notePlugin(downText, upText, downX, upX, noteY) {
  return {
    id: "notes",
    afterDraw(chart) {
      let c = chart.ctx, sx = chart.scales.x, sy = chart.scales.y;
      c.save();
      c.font = '19px "Liberation Serif"';
      c.textBaseline = "middle";
      c.fillStyle = "#1c6f1c";
      c.textAlign = "left";
      c.fillText(downText, sx.getPixelForValue(downX), sy.getPixelForValue(noteY));
      c.fillStyle = "#c42a2a";
      c.textAlign = "right";
      c.fillText(upText, sx.getPixelForValue(upX), sy.getPixelForValue(noteY));
      c.restore();
    },
  };
}

function volcano(p) {
  let axisGrid = { color: "#efefef", tickColor: "#444", tickLength: 2 };
  addChart(p.rect, p.plot, {
    type: "scatter",
    data: {
      datasets: [
        { label: "up", data: p.up, backgroundColor: "#d8282a", pointRadius: 3, borderWidth: 0 },
        { label: "down", data: p.down, backgroundColor: "#2d7f23", pointRadius: 3, borderWidth: 0 },
        { label: "other", data: p.other, backgroundColor: "#c6c6c6", pointRadius: 2.5, borderWidth: 0 },
      ],
    },
    options: {
      plugins: { title: { display: true, text: p.title, font: { size: 11.2, weight: "normal" }, color: "#111", fullSize: false, padding: { top: 0, bottom: 3 } } },
      scales: {
        x: {
          type: "linear", min: p.xr[0], max: p.xr[1],
          afterBuildTicks: explicitTicks(volcanoTicks),
          grid: axisGrid, border: { color: "#222", width: 1.3 },
          ticks: { font: { size: 7 }, color: "#666", padding: 1, maxRotation: 0, autoSkip: false },
          title: { display: true, text: "Log\u2082FC", font: { size: 9.5 }, color: "#222", padding: 0 },
        },
        y: {
          type: "linear", min: p.yr[0], max: p.yr[1],
          afterBuildTicks: explicitTicks(p.yTicks),
          grid: axisGrid, border: { color: "#222", width: 1.3 },
          ticks: { callback: (v) => (v % 1 === 0 && p.yShown.includes(v) ? v : ""), font: { size: 7.5 }, color: "#444", padding: 1, autoSkip: false },
          title: { display: true, text: "\u2212 Log\u2081\u2080P-Value", font: { size: 9 }, color: "#222", padding: 0 },
        },
      },
    },
    plugins: [framePlugin(p.frame[0], p.frame[1]), thresholdPlugin([-0.58, 0.58], 1.3), notePlugin(p.downText, p.upText, p.downX, p.upX, p.noteY)],
  });
}

volcano({
  rect: [1326, 520, 1640, 862], plot: [1348, 542, 1631, 840], title: "HN-C VS GZ-C Volcano Plot",
  up: cUp, down: cDown, other: cOther, xr: [-14.7, 20], yr: [-0.283, 6.05],
  yTicks: [0, 1, 2, 3, 4, 5, 6], yShown: [0, 2, 4, 6], frame: ["#555", 1.2],
  downText: "DOWN: 87/187", upText: "UP: 41/187", downX: -14.7, upX: 19.75, noteY: -0.07,
});
volcano({
  rect: [1678, 520, 1990, 862], plot: [1699, 542, 1982, 840], title: "HN-S VS GZ-S Volcano Plot",
  up: sUp, down: sDown, other: sOther, xr: [-14.4, 20.15], yr: [-0.286, 6.107],
  yTicks: [0, 1, 2, 3, 4, 5, 6], yShown: [0, 2, 4, 6], frame: ["#888", 2.2],
  downText: "DOWN: 54/212", upText: "UP: 49/212", downX: -14.25, upX: 19.8, noteY: -0.07,
});
volcano({
  rect: [1326, 880, 1640, 1219], plot: [1348, 901, 1631, 1198], title: "HN-M VS GZ-M Volcano Plot",
  up: mUp, down: mDown, other: mOther, xr: [-14.1, 20.5], yr: [-0.24, 5.09],
  yTicks: [0, 1, 2, 3, 4, 5], yShown: [0, 1, 2, 3, 4, 5], frame: ["#555", 1.2],
  downText: "DOWN: 33/228", upText: "UP: 52/228", downX: -13.84, upX: 20.33, noteY: -0.02,
});
volcano({
  rect: [1678, 880, 1990, 1219], plot: [1699, 901, 1982, 1198], title: "HN-L VS GZ-L Volcano Plot",
  up: lUp, down: lDown, other: lOther, xr: [-14.3, 20.5], yr: [-0.27, 5.66],
  yTicks: [0, 1, 2, 3, 4, 5], yShown: [0, 2, 4], frame: ["#888", 2.2],
  downText: "DOWN: 38/216", upText: "UP: 61/216", downX: -13.79, upX: 20.05, noteY: 0.01,
});

// VIP key
addText("", 1987, 1113, "width:37px;height:85px;border:1.4px solid #555;");
addText("VIP", 1992, 1118, "font:8.5px 'Liberation Sans';color:#111;");
vipSizes.forEach((v, i) => {
  let y = 1136.7 + i * 13;
  let r = 1 + i * 0.55;
  addText("", 1998 - r, y - r, `width:${2 * r}px;height:${2 * r}px;border-radius:50%;background:#111;`);
  addText(v.toFixed(2), 2009, y - 3.5, "font:7px 'Liberation Sans';color:#333;");
});

// panel letters
const panelFont = "font:bold 31px 'Open Sans';color:#000;";
addText("A", 12, 10, panelFont);
addText("B", 13, 491, panelFont);
addText("C", 711, 10, panelFont);
addText("D", 628, 491, panelFont);
addText("E", 1303, 10, panelFont);
addText("F", 1304, 491, panelFont);
</script>
</body>
</html>
